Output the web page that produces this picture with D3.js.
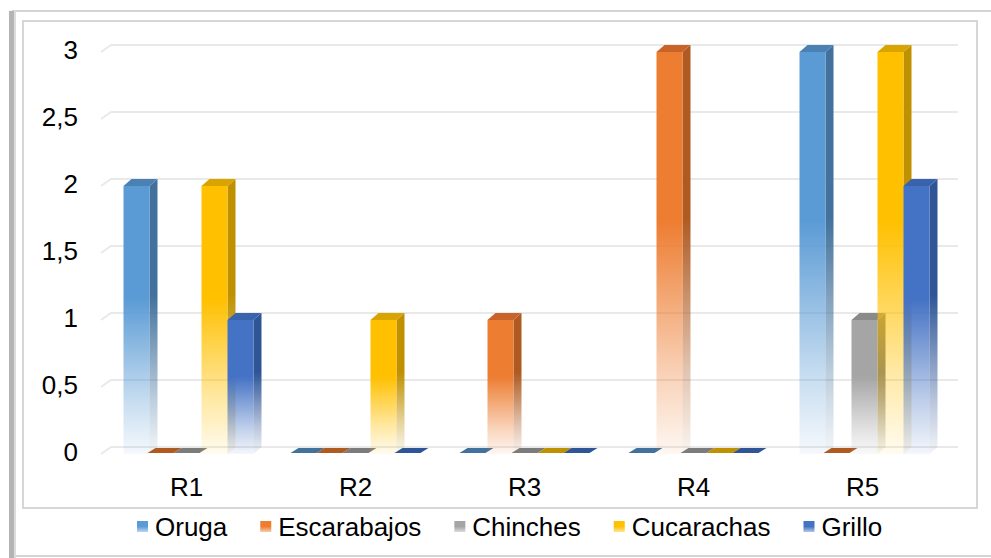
<!DOCTYPE html>
<html>
<head>
<meta charset="utf-8">
<script src="https://cdn.jsdelivr.net/npm/d3@7"></script>
<style>
  html, body { margin: 0; padding: 0; background: #fff; }
  svg { display: block; font-family: "Liberation Sans", Arial, sans-serif; }
</style>
</head>
<body>
<svg id="chart" width="991" height="558"></svg>
<script>
// Categories, series and tick values
const categories = ["R1", "R2", "R3", "R4", "R5"];
const seriesNames = ["Oruga", "Escarabajos", "Chinches", "Cucarachas", "Grillo"];
const oruga = [2, 0, 0, 0, 3];
const escarabajos = [0, 0, 1, 3, 0];
const chinches = [0, 0, 0, 0, 1];
const cucarachas = [2, 1, 0, 0, 3];
const grillo = [1, 0, 0, 0, 2];
const yTicks = [0, 0.5, 1, 1.5, 2, 2.5, 3];
const yTickLabels = ["0", "0,5", "1", "1,5", "2", "2,5", "3"];

const seriesValues = [oruga, escarabajos, chinches, cucarachas, grillo];
const colors = ["#5B9BD5", "#ED7D31", "#A5A5A5", "#FFC000", "#4472C4"];
const sideColors = ["#41719C", "#AE5A21", "#7C7C7C", "#BF9000", "#2F5597"];
const topColors = ["#4A80B4", "#C8642A", "#8A8A8A", "#D9A300", "#3A63AE"];

const svg = d3.select("#chart");
const defs = svg.append("defs");

// Outer frame
const frame = svg.append("g");
frame.append("line").attr("x1", 12).attr("x2", 991).attr("y1", 11).attr("y2", 11)
  .attr("stroke", "#d4d4d4").attr("stroke-width", 2);
frame.append("line").attr("x1", 12).attr("x2", 991).attr("y1", 556).attr("y2", 556)
  .attr("stroke", "#d4d4d4").attr("stroke-width", 2);
frame.append("rect").attr("x", 9).attr("y", 11).attr("width", 6).attr("height", 547)
  .attr("fill", "#b4b4b4");
frame.append("rect").attr("x", 14).attr("y", 11).attr("width", 2).attr("height", 547)
  .attr("fill", "#dcdcdc");
frame.append("rect").attr("x", 23).attr("y", 21).attr("width", 954).attr("height", 487)
  .attr("fill", "none").attr("stroke", "#d6d6d6").attr("stroke-width", 2);

// 3D depth offsets
const wallDx = 10, wallDy = 7;   // floor depth for gridlines
const barDx = 8, barDy = 7;      // bar depth

// Scales: back-wall plane and front plane
const yBack = d3.scaleLinear().domain([0, 3]).range([447, 45]);
const yFront = v => yBack(v) + wallDy;
const x0 = d3.scaleBand().domain(categories).range([104, 949]);
const x1 = d3.scaleBand().domain(seriesNames).range([0, x0.bandwidth()])
  .paddingInner(0).paddingOuter(0.75);
const bw = x1.bandwidth();

// Gridlines with the short diagonal to the floor front edge
const gridG = svg.append("g");
yTicks.forEach(t => {
  const p = d3.path();
  p.moveTo(101, yFront(t));
  p.lineTo(101 + wallDx, yBack(t));
  p.lineTo(958, yBack(t));
  gridG.append("path").attr("d", p.toString())
    .attr("fill", "none").attr("stroke", "#e9e9e9").attr("stroke-width", 2);
});

// Y tick labels
svg.append("g").selectAll("text").data(yTicks).join("text")
  .attr("x", 78).attr("y", d => yFront(d) - 2)
  .attr("text-anchor", "end").attr("dominant-baseline", "central")
  .attr("font-size", 26).attr("fill", "#000")
  .text((d, i) => yTickLabels[i]);

// Category labels
svg.append("g").selectAll("text").data(categories).join("text")
  .attr("x", d => x0(d) + x0.bandwidth() / 2 - 2)
  .attr("y", 487)
  .attr("text-anchor", "middle").attr("dominant-baseline", "central")
  .attr("font-size", 26).attr("fill", "#000")
  .text(d => d);

// Fading gradients for front and side faces
function fadeGradient(id, color, solidTo) {
  const g = defs.append("linearGradient").attr("id", id)
    .attr("x1", 0).attr("y1", 0).attr("x2", 0).attr("y2", 1);
  g.append("stop").attr("offset", 0).attr("stop-color", color).attr("stop-opacity", 1);
  g.append("stop").attr("offset", solidTo).attr("stop-color", color).attr("stop-opacity", 1);
  g.append("stop").attr("offset", 0.8).attr("stop-color", color).attr("stop-opacity", 0.35);
  g.append("stop").attr("offset", 1).attr("stop-color", color).attr("stop-opacity", 0.06);
}
seriesNames.forEach((s, i) => {
  fadeGradient("front" + i, colors[i], 0.42);
  fadeGradient("side" + i, sideColors[i], 0.42);
  const lg = defs.append("linearGradient").attr("id", "leg" + i)
    .attr("x1", 0).attr("y1", 0).attr("x2", 0).attr("y2", 1);
  lg.append("stop").attr("offset", 0.5).attr("stop-color", colors[i]);
  lg.append("stop").attr("offset", 1).attr("stop-color", colors[i]).attr("stop-opacity", 0.4);
});

// Bars, drawn left to right so each front face covers its neighbour's side face
const barsG = svg.append("g");
categories.forEach((c, ci) => {
  seriesNames.forEach((s, si) => {
    const v = seriesValues[si][ci];
    const xl = x0(c) + x1(s);
    const xr = xl + bw;
    const yb = yFront(0);
    const yt = yFront(v);
    if (v === 0) {
      // flat tile on the floor
      const p = d3.path();
      p.moveTo(xl - 2, yb - 1);
      p.lineTo(xr - 2, yb - 1);
      p.lineTo(xr + barDx - 2, yb - barDy + 1);
      p.lineTo(xl + barDx - 2, yb - barDy + 1);
      p.closePath();
      barsG.append("path").attr("d", p.toString()).attr("fill", sideColors[si]);
      return;
    }
    // side face
    const side = d3.path();
    side.moveTo(xr, yt);
    side.lineTo(xr + barDx, yt - barDy);
    side.lineTo(xr + barDx, yb - barDy);
    side.lineTo(xr, yb);
    side.closePath();
    barsG.append("path").attr("d", side.toString()).attr("fill", `url(#side${si})`);
    // top face
    const top = d3.path();
    top.moveTo(xl, yt);
    top.lineTo(xl + barDx, yt - barDy);
    top.lineTo(xr + barDx, yt - barDy);
    top.lineTo(xr, yt);
    top.closePath();
    barsG.append("path").attr("d", top.toString()).attr("fill", topColors[si]);
    // front face
    barsG.append("rect").attr("x", xl).attr("y", yt)
      .attr("width", bw).attr("height", yb - yt)
      .attr("fill", `url(#front${si})`);
  });
});

// Legend
const legend = svg.append("g").attr("transform", "translate(137, 527)");
let lx = 0;
seriesNames.forEach((s, i) => {
  const item = legend.append("g").attr("transform", `translate(${lx},0)`);
  item.append("rect").attr("x", 0).attr("y", -6).attr("width", 11).attr("height", 11)
    .attr("fill", `url(#leg${i})`);
  const t = item.append("text").attr("x", 18).attr("y", 0)
    .attr("dominant-baseline", "central")
    .attr("font-size", 26).attr("fill", "#000").text(s);
  lx += 18 + t.node().getComputedTextLength() + 33;
});
</script>
</body>
</html>
